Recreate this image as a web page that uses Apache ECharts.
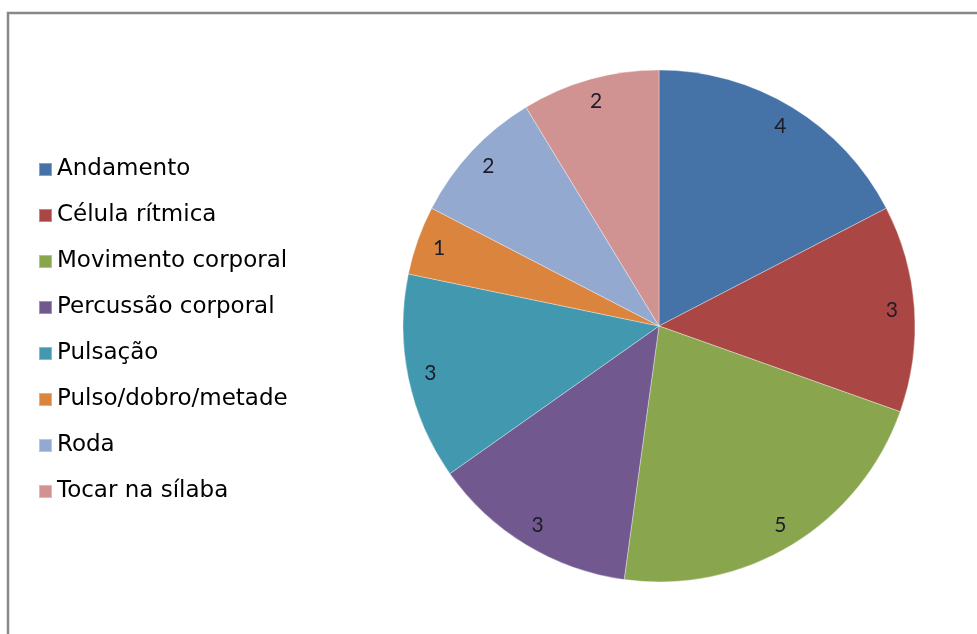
<!DOCTYPE html>
<html>
<head>
<meta charset="utf-8">
<script src="https://cdn.jsdelivr.net/npm/echarts@6/dist/echarts.min.js"></script>
<style>
  html, body { margin: 0; padding: 0; background: #ffffff; }
  #chart { width: 977px; height: 634px; }
</style>
</head>
<body>
<div id="chart"></div>
<script>
// Categories and counts
const categories = [
  'Andamento',
  'Célula rítmica',
  'Movimento corporal',
  'Percussão corporal',
  'Pulsação',
  'Pulso/dobro/metade',
  'Roda',
  'Tocar na sílaba'
];
const counts = [4, 3, 5, 3, 3, 1, 2, 2];
const sliceColors = ['#4572A7', '#AA4643', '#89A54E', '#71588F', '#4198AF', '#DB843D', '#93A9CF', '#D19392'];

const pieData = categories.map((name, i) => ({
  name: name,
  value: counts[i],
  itemStyle: { color: sliceColors[i] }
}));

const chart = echarts.init(document.getElementById('chart'), null, { renderer: 'canvas' });

const center = [659, 326];
const R = 256;

chart.setOption({
  backgroundColor: '#ffffff',
  animation: false,
  color: sliceColors,
  graphic: [{
    type: 'rect',
    shape: { x: 8, y: 13, width: 1000, height: 700 },
    style: { fill: 'none', stroke: '#888888', lineWidth: 2.5 },
    silent: true,
    z: 0
  }],
  legend: {
    orient: 'vertical',
    left: 38,
    top: 158,
    padding: 0,
    icon: 'rect',
    itemWidth: 13,
    itemHeight: 13,
    itemGap: 23,
    data: categories,
    textStyle: {
      fontFamily: 'DejaVu Sans',
      fontSize: 23,
      lineHeight: 23,
      color: '#000000'
    }
  },
  series: [
    {
      name: 'main',
      type: 'pie',
      center: center,
      radius: [0, R],
      startAngle: 90,
      clockwise: true,
      avoidLabelOverlap: false,
      label: { show: false },
      labelLine: { show: false },
      itemStyle: { borderColor: 'rgba(255,255,255,0.35)', borderWidth: 1 },
      emphasis: { disabled: true },
      data: pieData
    },
    {
      // transparent ring that carries the value labels near the rim
      name: 'labels',
      type: 'pie',
      center: center,
      radius: [205, R],
      startAngle: 90,
      clockwise: true,
      silent: true,
      avoidLabelOverlap: false,
      itemStyle: { color: 'rgba(0,0,0,0)', borderWidth: 0 },
      label: {
        show: true,
        position: 'inside',
        formatter: '{c}',
        fontFamily: 'Lato',
        fontSize: 21,
        color: '#1c1c28'
      },
      labelLine: { show: false },
      emphasis: { disabled: true },
      data: categories.map((name, i) => ({ name: name, value: counts[i] }))
    }
  ]
});
</script>
</body>
</html>
